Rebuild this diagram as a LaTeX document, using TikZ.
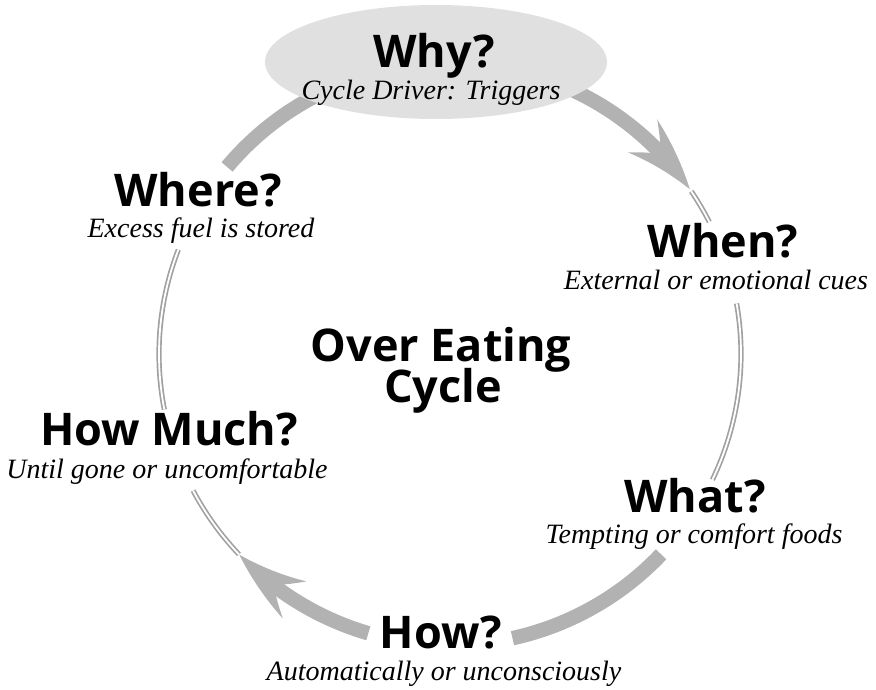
\documentclass[tikz,border=0pt]{standalone}
\usepackage{fontspec}
\setmainfont{Liberation Serif}
\setsansfont{Open Sans}
\usetikzlibrary{arrows.meta,bending,shapes.geometric}
\definecolor{bandgray}{gray}{0.70}
\definecolor{bubblegray}{gray}{0.88}
\tikzset{
  band/.style={draw=bandgray, line width=14.5pt},
  thinband/.style={draw=bandgray!90!black, line width=1.7pt, double=white, double distance=1.8pt},
  bandtip/.style={-{Stealth[length=72pt,width=44pt,inset=26pt,line width=0pt,bend]}},
  heading/.style={font=\sffamily\bfseries\fontsize{45}{45}\selectfont, inner sep=0pt, anchor=base},
  subtext/.style={font=\itshape\fontsize{28}{28}\selectfont, inner sep=0pt, anchor=base}
}
\begin{document}
\begin{tikzpicture}[x=1pt,y=1pt]
  \useasboundingbox (0,0) rectangle (876,689);
  \begin{scope}[shift={(450,335)}]
    \draw[band,bandtip] (70:291) arc[start angle=70, end angle=34.5, radius=291];
    \draw[thinband] (34:291) arc[start angle=34, end angle=27, radius=291];
    \draw[thinband] (10:291) arc[start angle=10, end angle=-25.6, radius=291];
    \draw[band] (-43.5:291) arc[start angle=-43.5, end angle=-77.6, radius=291];
    \draw[band,bandtip] (-106.3:291) arc[start angle=-106.3, end angle=-136.4, radius=291];
    \draw[thinband] (223.5:291) arc[start angle=223.5, end angle=208, radius=291];
    \draw[thinband] (191:291) arc[start angle=191, end angle=159, radius=291];
    \draw[band] (140:291) arc[start angle=140, end angle=110, radius=291];
  \end{scope}
  \node[ellipse, fill=bubblegray, minimum width=342pt, minimum height=114pt, inner sep=0pt] (bubble) at (436,627) {};
  \node[heading] (why) at (434,621) {Why?};
  \node[subtext] (whysub) at (431,589) {Cycle Driver: Triggers};
  \node[heading] (where) at (198,482) {Where?};
  \node[subtext] (wheresub) at (201,451) {Excess fuel is stored};
  \node[heading] (when) at (723,431) {When?};
  \node[subtext] (whensub) at (716,399) {External or emotional cues};
  \node[heading] (titletop) at (441,327) {Over Eating};
  \node[heading] (titlebot) at (443,286) {Cycle};
  \node[heading] (howmuch) at (169,243) {How Much?};
  \node[subtext] (howmuchsub) at (167,211) {Until gone or uncomfortable};
  \node[heading] (what) at (695,176) {What?};
  \node[subtext] (whatsub) at (694,146) {Tempting or comfort foods};
  \node[heading] (how) at (441,41) {How?};
  \node[subtext] (howsub) at (444,9) {Automatically or unconsciously};
\end{tikzpicture}
\end{document}
